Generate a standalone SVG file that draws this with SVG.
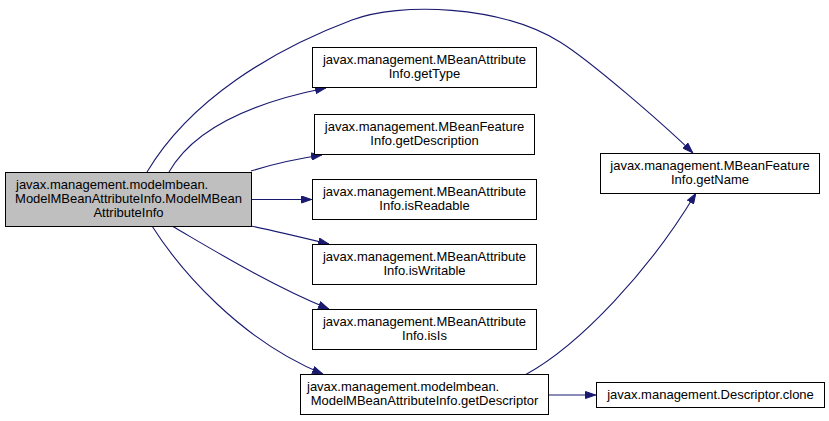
<svg xmlns="http://www.w3.org/2000/svg" width="829" height="421" viewBox="0 0 829 421">
<defs>
<style>
.n rect{fill:#ffffff;stroke:#000000;stroke-width:1}
.n.main rect{fill:#bfbfbf}
.n text{font-family:"Liberation Sans",Arial,sans-serif;font-size:13px;fill:#000000;text-anchor:middle}
.n text.l{text-anchor:start}
.e path{fill:none;stroke:#191970;stroke-width:1.1;marker-end:url(#ah)}
</style>
<marker id="ah" viewBox="0 0 11 8" refX="11" refY="4" markerWidth="11" markerHeight="8" markerUnits="userSpaceOnUse" orient="auto">
<path d="M0.5,0.5 L10.5,4 L0.5,7.5 Z" fill="#191970" stroke="#191970" stroke-width="1"/>
</marker>
</defs>
<rect width="829" height="421" fill="#ffffff"/>
<g id="edges" class="e">
<path d="M147,172 C190,100 272,50 352,20 C400,2 500,5 560,42 C590,60.5 662,123 693,153"/>
<path d="M169,172 C190,135 240,105 326,88"/>
<path d="M251,171 C270,165 295,159 322,155"/>
<path d="M251,199.5 L312,199.5"/>
<path d="M251,226 C275,231 300,237 329,244"/>
<path d="M172,226 C210,248 270,285 329,309"/>
<path d="M152,226 C180,270 240,340 323,374"/>
<path d="M525,375 C580,345 650,270 696,193"/>
<path d="M549,395 L596,395"/>
</g>
<g id="node_main" class="n main">
<rect x="5.5" y="172.5" width="246" height="54"/>
<text class="l" x="16" y="188.5">javax.management.modelmbean.</text>
<text x="128.5" y="202.5">ModelMBeanAttributeInfo.ModelMBean</text>
<text x="128.5" y="216.5">AttributeInfo</text>
</g>
<g id="node_getType" class="n">
<rect x="312.5" y="47.5" width="224" height="40"/>
<text x="424.5" y="63.5">javax.management.MBeanAttribute</text>
<text x="424.5" y="77.5">Info.getType</text>
</g>
<g id="node_getDescription" class="n">
<rect x="314.5" y="114.5" width="220" height="40"/>
<text x="424.5" y="130.5">javax.management.MBeanFeature</text>
<text x="424.5" y="144.5">Info.getDescription</text>
</g>
<g id="node_isReadable" class="n">
<rect x="312.5" y="179.5" width="224" height="40"/>
<text x="424.5" y="195.5">javax.management.MBeanAttribute</text>
<text x="424.5" y="209.5">Info.isReadable</text>
</g>
<g id="node_isWritable" class="n">
<rect x="312.5" y="244.5" width="224" height="40"/>
<text x="424.5" y="260.5">javax.management.MBeanAttribute</text>
<text x="424.5" y="274.5">Info.isWritable</text>
</g>
<g id="node_isIs" class="n">
<rect x="312.5" y="309.5" width="224" height="40"/>
<text x="424.5" y="325.5">javax.management.MBeanAttribute</text>
<text x="424.5" y="339.5">Info.isIs</text>
</g>
<g id="node_getDescriptor" class="n">
<rect x="300.5" y="374.5" width="248" height="40"/>
<text class="l" x="307" y="390.5">javax.management.modelmbean.</text>
<text x="424.5" y="404.5">ModelMBeanAttributeInfo.getDescriptor</text>
</g>
<g id="node_getName" class="n">
<rect x="600.5" y="153.5" width="219" height="40"/>
<text x="710" y="169.5">javax.management.MBeanFeature</text>
<text x="710" y="183.5">Info.getName</text>
</g>
<g id="node_clone" class="n">
<rect x="596.5" y="382.5" width="228" height="25"/>
<text x="710.5" y="398.5">javax.management.Descriptor.clone</text>
</g>
</svg>
